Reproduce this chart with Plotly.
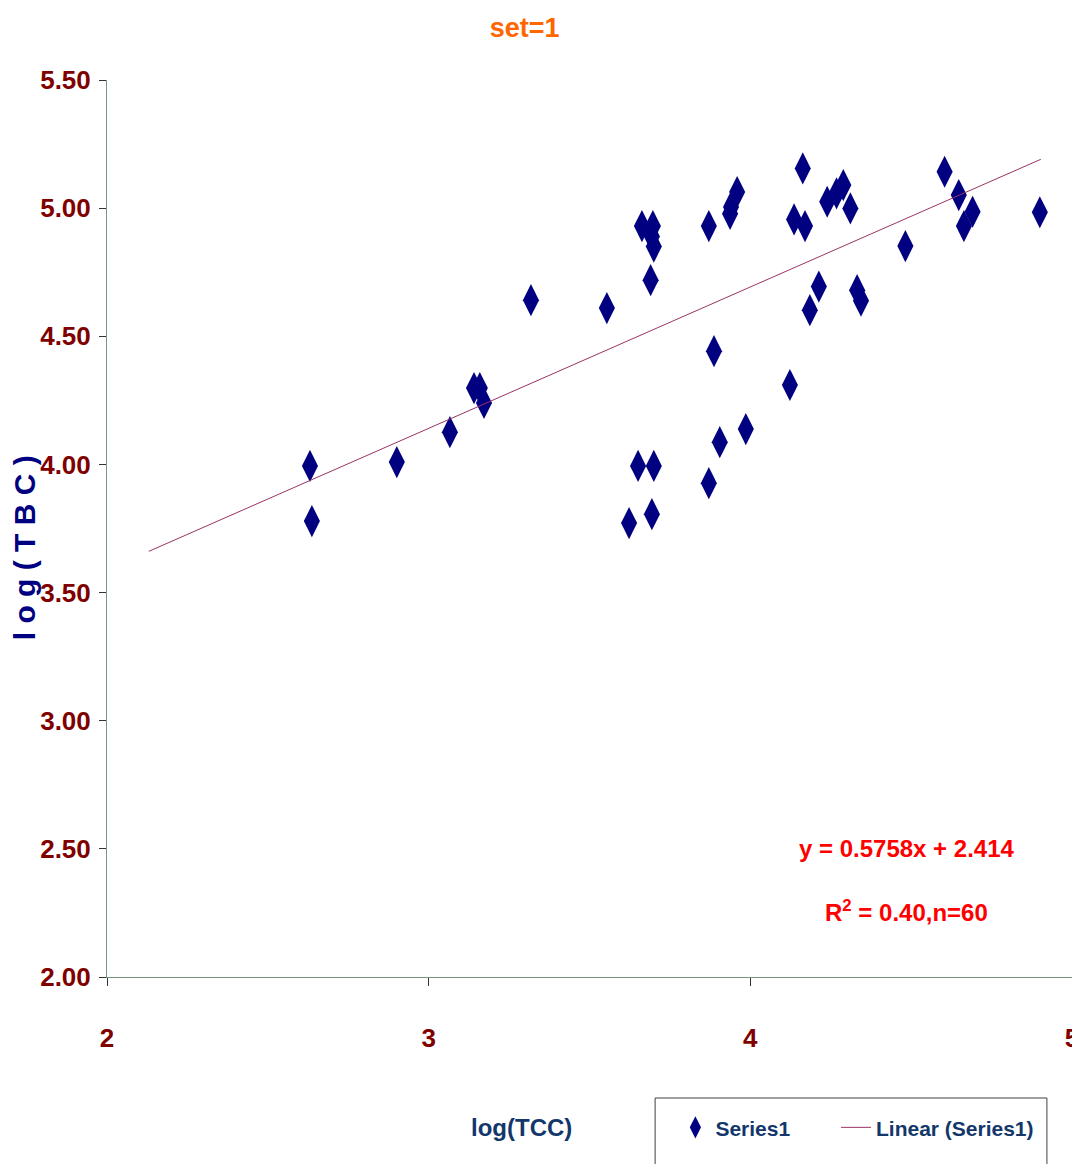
import plotly.graph_objects as go
import numpy as np

# Data
log_tcc = [2.631, 2.637, 2.901, 3.066, 3.141, 3.159, 3.172, 3.318, 3.554, 3.623,
           3.651, 3.663, 3.697, 3.694, 3.700, 3.690, 3.700, 3.694, 3.871, 3.871,
           3.887, 3.905, 3.937, 3.940, 3.959, 3.986, 4.123, 4.163, 4.136, 4.170,
           4.213, 4.185, 4.239, 4.268, 4.289, 4.311, 4.332, 4.344, 4.482, 4.604,
           4.648, 4.691, 4.664, 4.900]
log_tbc = [3.994, 3.779, 4.009, 4.126, 4.298, 4.298, 4.240, 4.641, 4.610, 3.771,
           3.994, 4.930, 4.930, 4.889, 4.850, 4.719, 3.994, 3.806, 4.930, 3.927,
           4.442, 4.087, 4.978, 5.004, 5.063, 4.138, 4.310, 5.155, 4.956, 4.930,
           4.694, 4.602, 5.025, 5.058, 5.090, 4.999, 4.680, 4.639, 4.852, 5.142,
           5.051, 4.986, 4.930, 4.984]

# Trend line as drawn
trend_slope = 0.5516
trend_intercept = 2.486
trend_x_range = [2.13, 4.903]

x_ticks = [2, 3, 4, 5]
y_ticks = [2.0, 2.5, 3.0, 3.5, 4.0, 4.5, 5.0, 5.5]
y_tick_labels = ["2.00", "2.50", "3.00", "3.50", "4.00", "4.50", "5.00", "5.50"]

FONT = "Liberation Sans, Arial, sans-serif"

trend_x = np.array(trend_x_range)
trend_y = trend_slope * trend_x + trend_intercept

fig = go.Figure()
fig.add_trace(go.Scatter(
    x=log_tcc, y=log_tbc, mode="markers", name="Series1" + "\u00a0" * 7,
    marker=dict(symbol="diamond-tall", size=23, color="#000080",
                line=dict(width=0)),
))
fig.add_trace(go.Scatter(
    x=trend_x, y=trend_y, mode="lines", name="Linear (Series1)",
    line=dict(color="#993366", width=1),
))

fig.update_layout(
    width=1072, height=1156,
    margin=dict(l=99, r=8, t=72, b=187, autoexpand=False),
    paper_bgcolor="white", plot_bgcolor="white",
    font=dict(family=FONT),
    title=dict(text="<b>set=1</b>", x=0.482, xanchor="center", y=0.9827, yanchor="middle",
               font=dict(family=FONT, size=27, color="#FF6600")),
    showlegend=True,
    legend=dict(orientation="h", x=0.589, xanchor="left", y=-0.168, yanchor="middle",
                borderwidth=0, bgcolor="rgba(0,0,0,0)",
                font=dict(family=FONT, size=21, color="#13376B", weight="bold")),
    shapes=[dict(type="rect", xref="paper", yref="paper",
                 x0=0.568, x1=0.974, y0=-0.1349, y1=-0.23,
                 line=dict(color="#404040", width=1), fillcolor="rgba(0,0,0,0)",
                 layer="below")],
)

fig.update_xaxes(
    range=[2, 5], tickvals=x_ticks, ticktext=[str(v) for v in x_ticks],
    showgrid=False, zeroline=False, showline=True, linecolor="#7A967A", linewidth=1,
    ticks="outside", ticklen=8, tickcolor="#333333", automargin=False,
    tickfont=dict(family=FONT, size=26, color="#800000", weight="bold"),
    ticklabelstandoff=30, ticklabeloverflow="allow",
)
fig.update_yaxes(
    range=[2, 5.5], tickvals=y_ticks, ticktext=y_tick_labels,
    showgrid=False, zeroline=False, showline=True, linecolor="#7A967A", linewidth=1,
    ticks="outside", ticklen=7, tickcolor="#333333", automargin=False,
    tickfont=dict(family=FONT, size=26, color="#800000", weight="bold"),
    ticklabelstandoff=3, ticklabeloverflow="allow",
)

fig.add_annotation(
    xref="paper", yref="paper", x=-0.086, y=0.478, xanchor="center", yanchor="middle",
    text="<b>l o g ( T B C )</b>", textangle=-90, showarrow=False,
    font=dict(family=FONT, size=30, color="#000080"),
)
fig.add_annotation(
    xref="paper", yref="paper", x=0.430, y=-0.168, xanchor="center", yanchor="middle",
    text="<b>log(TCC)</b>", showarrow=False,
    font=dict(family=FONT, size=24, color="#13376B"),
)
fig.add_annotation(
    xref="paper", yref="paper", x=0.829, y=0.1438, xanchor="center", yanchor="middle",
    text="<b>y = 0.5758x + 2.414</b>", showarrow=False,
    font=dict(family=FONT, size=24, color="#FF0000"),
)
fig.add_annotation(
    xref="paper", yref="paper", x=0.829, y=0.0735, xanchor="center", yanchor="middle",
    text="<b>R<sup>2</sup> = 0.40,n=60</b>", showarrow=False,
    font=dict(family=FONT, size=24, color="#FF0000"),
)

fig.write_html("out.html")
